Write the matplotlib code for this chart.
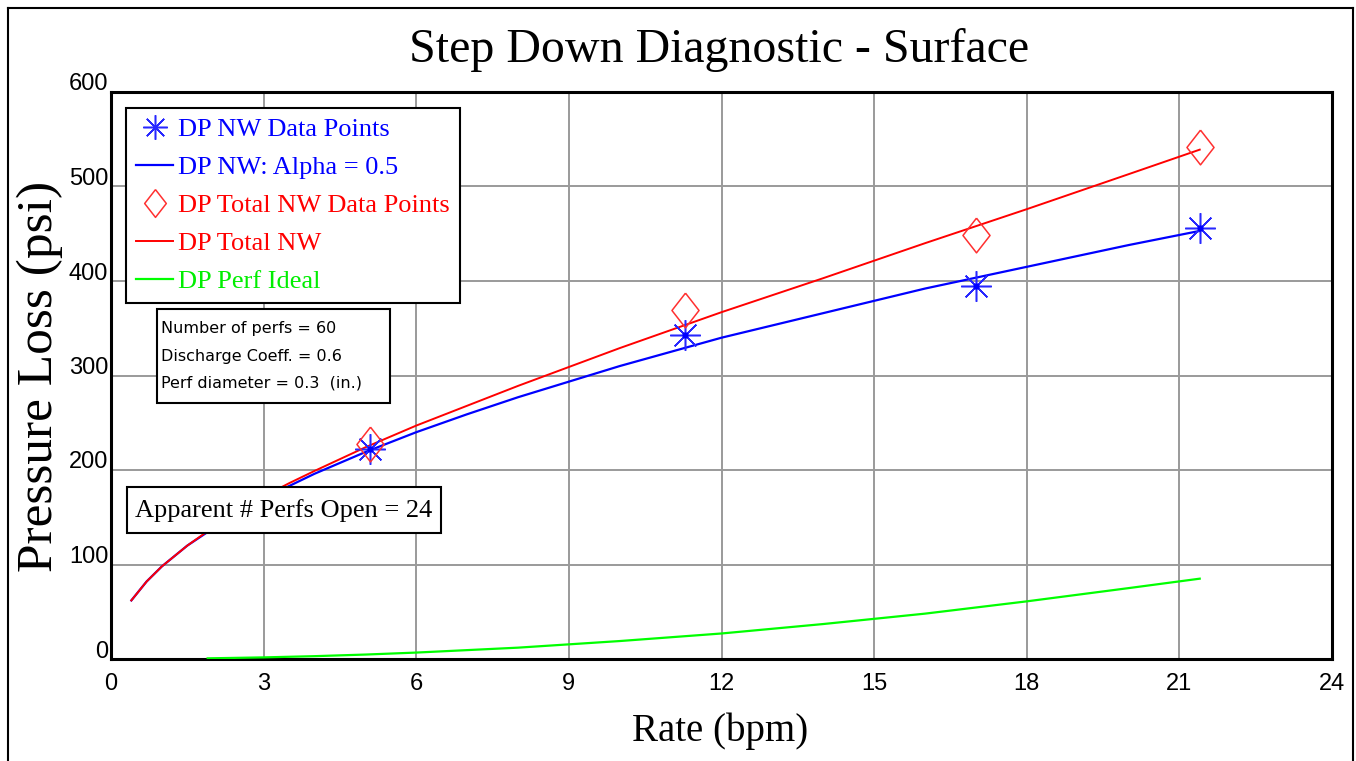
import matplotlib
matplotlib.use("Agg")
import matplotlib.pyplot as plt
import matplotlib.transforms as mtransforms
from matplotlib.lines import Line2D
from matplotlib.patches import Rectangle

# ---- data ----
nw_rate = [5.1, 11.28, 17.01, 21.41]
nw_dp = [222, 343, 395, 456]

tot_rate = [5.1, 11.28, 17.01, 21.41]
tot_dp = [227, 369, 449, 542]

curve_rate = [0.4, 0.7, 1, 1.5, 2, 2.5, 3, 3.5, 4, 5, 6, 7, 8, 10, 12, 14, 16, 18, 20, 21.4]
nw_curve = [62, 82, 98, 120, 138, 155, 170, 183, 196, 219, 240, 259, 277, 310, 340, 366, 392, 415, 438, 453]
tot_curve = [62, 82, 98, 120, 139, 156, 172, 186, 199, 224, 247, 268, 289, 329, 367, 403, 440, 476, 513, 539]

perf_rate = [1.9, 3, 4, 5, 6, 8, 10, 12, 14, 16, 18, 20, 21.4]
perf_dp = [0.7, 1.7, 3, 4.7, 6.8, 12, 19, 27, 37, 48, 61, 75, 85]

x_ticks = [0, 3, 6, 9, 12, 15, 18, 21, 24]
y_ticks = [0, 100, 200, 300, 400, 500, 600]

legend_labels = ["DP NW Data Points", "DP NW: Alpha = 0.5",
                 "DP Total NW Data Points", "DP Total NW", "DP Perf Ideal"]
param_lines = ["Number of perfs = 60", "Discharge Coeff. = 0.6",
               "Perf diameter = 0.3  (in.)"]
apparent_text = "Apparent # Perfs Open = 24"

W, H = 1356, 761
fig = plt.figure(figsize=(W / 100, H / 100), dpi=100)
fig.patch.set_facecolor("white")

def fx(px):
    return px / W

def fy(py):
    return 1 - py / H

ax = fig.add_axes([fx(111), fy(659), fx(1332) - fx(111), fy(92) - fy(659)])

SERIF = "Liberation Serif"
SANS = "Liberation Sans"

star = (8, 2, 0)
diamond = [(0, 1), (0.78, 0), (0, -1), (-0.78, 0), (0, 1)]

l_nw, = ax.plot(curve_rate, nw_curve, color="#0000FF", lw=1.6, zorder=3)
l_tot, = ax.plot(curve_rate, tot_curve, color="#FF0000", lw=1.4, zorder=4)
l_perf, = ax.plot(perf_rate, perf_dp, color="#00FF00", lw=1.6, zorder=3)
p_nw, = ax.plot(nw_rate, nw_dp, linestyle="none", marker=star, markersize=22,
                markeredgewidth=1.1, color="#2828FF", zorder=5)
ax.plot(nw_rate, nw_dp, linestyle="none", marker="o", markersize=3.5,
        color="#0000FF", zorder=6)
p_tot, = ax.plot(tot_rate, tot_dp, linestyle="none", marker=diamond,
                 markersize=25, markerfacecolor="none", markeredgecolor="#FF3030",
                 markeredgewidth=1.1, zorder=5)

ax.set_xlim(0, 24)
ax.set_ylim(0, 600)
ax.set_xticks(x_ticks)
ax.set_yticks(y_ticks)
ax.set_xticklabels([str(v) for v in x_ticks], fontfamily=SANS, fontsize=17)
ax.set_yticklabels([str(v) for v in y_ticks], fontfamily=SANS, fontsize=17)
ax.tick_params(axis="both", length=0)
ax.tick_params(axis="x", pad=10)
ax.tick_params(axis="y", pad=2)
off = mtransforms.ScaledTranslation(0, 10 / 100, fig.dpi_scale_trans)
for lab in ax.get_yticklabels():
    lab.set_transform(lab.get_transform() + off)
ax.grid(True, color="#9a9a9a", lw=1.4)
ax.set_axisbelow(True)
for s in ax.spines.values():
    s.set_linewidth(2.2)
    s.set_color("black")

# titles
fig.text(fx(719), fy(50), "Step Down Diagnostic - Surface", fontfamily=SERIF,
         fontsize=34.5, ha="center", va="center")
fig.text(fx(720), fy(731), "Rate (bpm)", fontfamily=SERIF, fontsize=28,
         ha="center", va="center")
fig.text(fx(40), fy(376), "Pressure Loss (psi)", fontfamily=SERIF, fontsize=37,
         ha="center", va="center", rotation=90)

# legend
handles = [p_nw, l_nw, p_tot, l_tot, l_perf]
colors = ["#0000FF", "#0000FF", "#FF0000", "#FF0000", "#00EE00"]
leg = ax.legend(handles, legend_labels, loc="upper left",
                bbox_to_anchor=(fx(126), fy(108)), bbox_transform=fig.transFigure,
                borderaxespad=0, prop={"family": SERIF, "size": 19},
                frameon=True, fancybox=False, framealpha=1, edgecolor="black",
                handlelength=1.4, handletextpad=0.2, labelspacing=0.55,
                borderpad=0.38, markerscale=0.8)
leg.get_frame().set_linewidth(1.5)
for t, c in zip(leg.get_texts(), colors):
    t.set_color(c)
leg.set_zorder(10)

# parameter box
fig.add_artist(Rectangle((fx(157), fy(403)), fx(390) - fx(157), fy(309) - fy(403),
                         transform=fig.transFigure, facecolor="white",
                         edgecolor="black", lw=1.5, zorder=10))
for i, line in enumerate(param_lines):
    fig.text(fx(161), fy(329 + 27 * i), line, fontfamily="DejaVu Sans",
             fontsize=11.5, ha="left", va="center", zorder=11)

# apparent perfs box
fig.add_artist(Rectangle((fx(127), fy(533)), fx(441) - fx(127), fy(487) - fy(533),
                         transform=fig.transFigure, facecolor="white",
                         edgecolor="black", lw=1.5, zorder=10))
fig.text(fx(284), fy(511), apparent_text, fontfamily=SERIF, fontsize=19,
         ha="center", va="center", zorder=11)

# figure border
for xs, ys in [((8, 8), (8, 761)), ((8, 1353), (8, 8)), ((1353, 1353), (8, 761))]:
    fig.add_artist(Line2D([fx(xs[0]), fx(xs[1])], [fy(ys[0]), fy(ys[1])],
                          transform=fig.transFigure, color="black", lw=1.5))

fig.savefig("out.png", dpi=100)
